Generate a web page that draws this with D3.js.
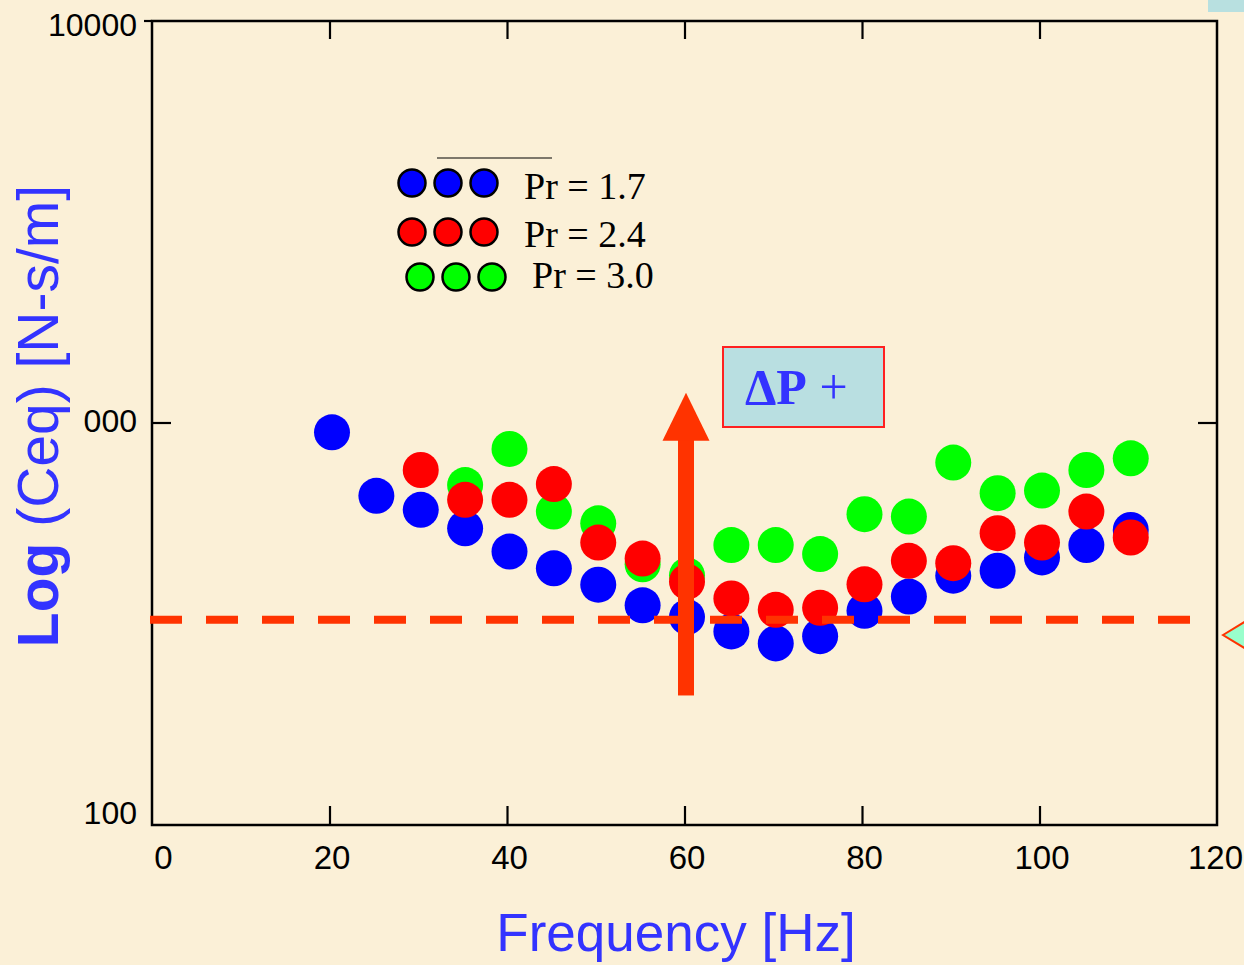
<!DOCTYPE html>
<html>
<head>
<meta charset="utf-8">
<script src="https://cdn.jsdelivr.net/npm/d3@7"></script>
<style>
  html, body { margin: 0; padding: 0; background: #fbf0d7; overflow: hidden; }
  svg { display: block; }
</style>
</head>
<body>
<svg id="chart" width="1244" height="965"></svg>
<script>
// ---------------- data ----------------
const freqBlue  = [20, 25, 30, 35, 40, 45, 50, 55, 60, 65, 70, 75, 80, 85, 90, 95, 100, 105, 110];
const ceqBlue   = [948, 659, 608, 547, 479, 435, 396, 352, 329, 303, 283, 295, 341, 370, 417, 429, 463, 497, 542];
const freqRed   = [30, 35, 40, 45, 50, 55, 60, 65, 70, 75, 80, 85, 90, 95, 100, 105, 110];
const ceqRed    = [764, 644, 644, 705, 504, 460, 403, 366, 343, 347, 397, 454, 448, 532, 504, 602, 519];
const freqGreen = [35, 40, 45, 50, 55, 60, 65, 70, 75, 80, 85, 90, 95, 100, 105, 110];
const ceqGreen  = [701, 862, 602, 563, 445, 418, 497, 497, 472, 593, 585, 797, 669, 679, 764, 817];

const seriesNames  = ["Pr = 1.7", "Pr = 2.4", "Pr = 3.0"];
const seriesColors = ["#0000ff", "#ff0000", "#00ff00"];

const xTicks = [0, 20, 40, 60, 80, 100, 120];
const yTicks = [100, 1000, 10000];
const yTickLabels = ["100", "000", "10000"];

const refLevel = 324;          // dashed reference level
const arrowFreq = 60;          // ΔP arrow position
const arrowFrom = 210, arrowTo = 1190;

// ---------------- layout ----------------
const W = 1244, H = 965;
const plot = { left: 152, right: 1217, top: 21, bottom: 825 };
const svg = d3.select("#chart");
const sans = "'Liberation Sans', Arial, sans-serif";
const serif = "'Liberation Serif', 'Times New Roman', serif";
const titleBlue = "#3333ff";
const orange = "#ff3300";

svg.append("rect").attr("width", W).attr("height", H).attr("fill", "#fbf0d7");

const x = d3.scaleLinear().domain([0, 120]).range([plot.left, plot.right]);
const y = d3.scaleLog().domain([100, 10000]).range([plot.bottom, plot.top]);
const markShift = 2.5; // markers sit slightly right of the tick grid in the original

// decorative slide fragments at the right edge
svg.append("rect").attr("x", 1208).attr("y", 0).attr("width", 36).attr("height", 12).attr("fill", "#b8e0e0");
svg.append("polygon").attr("points", "1223,635 1246,621 1246,649")
  .attr("fill", "#99ffcc").attr("stroke", orange).attr("stroke-width", 2);

// ---------------- data points ----------------
const series = [
  { name: seriesNames[0], color: seriesColors[0], f: freqBlue, v: ceqBlue },
  { name: seriesNames[2], color: seriesColors[2], f: freqGreen, v: ceqGreen },
  { name: seriesNames[1], color: seriesColors[1], f: freqRed, v: ceqRed }
];
series.forEach(s => {
  svg.append("g").selectAll("circle")
    .data(s.f.map((f, i) => ({ f, v: s.v[i] })))
    .join("circle")
    .attr("cx", d => x(d.f) + markShift)
    .attr("cy", d => y(d.v))
    .attr("r", 18)
    .attr("fill", s.color);
});

// ---------------- frame & axes ----------------
const axisW = 2.5;
svg.append("rect")
  .attr("x", plot.left).attr("y", plot.top)
  .attr("width", plot.right - plot.left).attr("height", plot.bottom - plot.top)
  .attr("fill", "none").attr("stroke", "#000").attr("stroke-width", axisW);

// bottom axis labels + inward ticks
const xAxis = d3.axisBottom(x).tickValues(xTicks).tickSizeInner(-19).tickSizeOuter(0).tickPadding(21);
const gx = svg.append("g").attr("transform", `translate(0,${plot.bottom})`).call(xAxis);
gx.select(".domain").remove();
gx.selectAll(".tick line").attr("stroke", "#000").attr("stroke-width", 2.2)
  .filter(d => d === 0 || d === 120).remove();
gx.selectAll(".tick text").attr("font-family", sans).attr("font-size", 33).attr("fill", "#000")
  .attr("dx", d => d === 0 ? 11 : (d === 120 ? -2 : 2));

// top inward ticks
const xTop = d3.axisTop(x).tickValues(xTicks.filter(d => d > 0 && d < 120)).tickSizeInner(-18).tickSizeOuter(0).tickFormat("");
const gxt = svg.append("g").attr("transform", `translate(0,${plot.top})`).call(xTop);
gxt.select(".domain").remove();
gxt.selectAll(".tick line").attr("stroke", "#000").attr("stroke-width", 2.2);

// left axis labels
const yAxis = d3.axisLeft(y).tickValues(yTicks).tickFormat((d, i) => yTickLabels[i]).tickSize(0).tickPadding(15);
const gy = svg.append("g").attr("transform", `translate(${plot.left},0)`).call(yAxis);
gy.select(".domain").remove();
gy.selectAll(".tick text").attr("font-family", sans).attr("font-size", 32).attr("fill", "#000")
  .attr("dy", d => d === 100 ? "-0.05em" : (d === 10000 ? "0.45em" : "0.25em"));
// left ticks: 10000 outward, 1000 inward
svg.append("line").attr("x1", plot.left - 8).attr("x2", plot.left).attr("y1", y(10000)).attr("y2", y(10000))
  .attr("stroke", "#000").attr("stroke-width", 2.2);
svg.append("line").attr("x1", plot.left).attr("x2", plot.left + 19).attr("y1", y(1000)).attr("y2", y(1000))
  .attr("stroke", "#000").attr("stroke-width", 2.2);
// right inward tick at 1000
svg.append("line").attr("x1", plot.right - 19).attr("x2", plot.right).attr("y1", y(1000)).attr("y2", y(1000))
  .attr("stroke", "#000").attr("stroke-width", 2.2);

// ---------------- annotations ----------------
// dashed reference line
svg.append("line")
  .attr("x1", plot.left - 2).attr("x2", 1200)
  .attr("y1", y(refLevel)).attr("y2", y(refLevel))
  .attr("stroke", orange).attr("stroke-width", 8).attr("stroke-dasharray", "32,24");

// arrow
const ax = x(arrowFreq) + 1.5;
const headBase = y(arrowTo) + 48;
svg.append("rect").attr("x", ax - 8).attr("y", headBase - 1).attr("width", 16).attr("height", y(arrowFrom) - headBase + 1).attr("fill", orange);
svg.append("polygon")
  .attr("points", `${ax - 23.5},${headBase} ${ax + 23.5},${headBase} ${ax},${y(arrowTo)}`)
  .attr("fill", orange);

// ΔP box
svg.append("rect").attr("x", 723).attr("y", 347).attr("width", 161).attr("height", 80)
  .attr("fill", "#b9dfe1").attr("stroke", "#ff2020").attr("stroke-width", 2);
const dp = svg.append("text").attr("x", 745).attr("y", 404)
  .attr("font-family", serif).attr("font-size", 50).attr("fill", titleBlue);
dp.append("tspan").attr("font-weight", "bold").text("ΔP");
dp.append("tspan").text(" +");

// ---------------- legend ----------------
const legendRows = [
  { cy: 183, cx0: 412, tx: 524, ty: 199 },
  { cy: 232, cx0: 412, tx: 524, ty: 247 },
  { cy: 277, cx0: 420, tx: 532, ty: 288 }
];
svg.append("line").attr("x1", 437).attr("x2", 552).attr("y1", 158).attr("y2", 158)
  .attr("stroke", "#000").attr("stroke-width", 1.2);
seriesNames.forEach((name, i) => {
  const row = legendRows[i];
  svg.append("g").selectAll("circle").data([0, 1, 2]).join("circle")
    .attr("cx", k => row.cx0 + k * 36).attr("cy", row.cy).attr("r", 13.5)
    .attr("fill", seriesColors[i]).attr("stroke", "#000").attr("stroke-width", 2.5);
  svg.append("text").attr("x", row.tx).attr("y", row.ty)
    .attr("font-family", serif).attr("font-size", 38).attr("fill", "#000").text(name);
});

// ---------------- axis titles ----------------
svg.append("text")
  .attr("x", 676).attr("y", 951).attr("text-anchor", "middle")
  .attr("font-family", sans).attr("font-size", 53).attr("fill", titleBlue)
  .text("Frequency [Hz]");

const yt = svg.append("text")
  .attr("transform", "translate(58,416) rotate(-90)")
  .attr("text-anchor", "middle")
  .attr("font-family", sans).attr("font-size", 57).attr("fill", titleBlue);
yt.append("tspan").attr("font-weight", "bold").text("Log");
yt.append("tspan").text(" (Ceq) [N-s/m]");
</script>
</body>
</html>
